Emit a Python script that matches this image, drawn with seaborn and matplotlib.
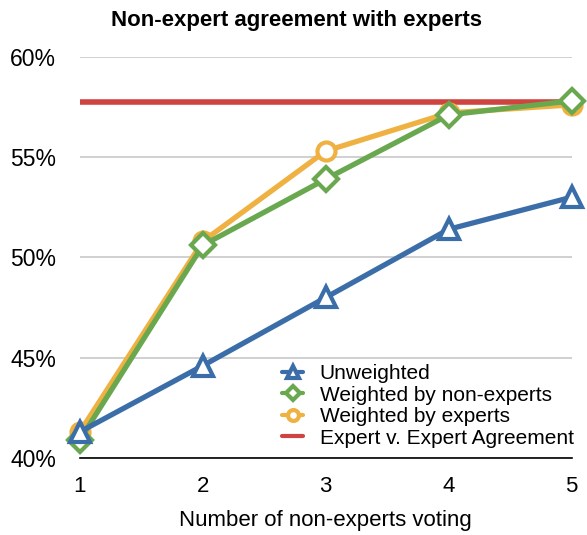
"""
Non-expert agreement with experts, as a function of how many non-experts vote.
"""

import matplotlib
matplotlib.use("Agg")
import matplotlib.pyplot as plt
import pandas as pd
import seaborn as sns
from matplotlib.ticker import FuncFormatter

# ── data ─────────────────────────────────────────────────────────────────────
voters          = [1, 2, 3, 4, 5]
unweighted      = [41.3, 44.6, 48.0, 51.4, 53.0]
weighted_nonexp = [40.9, 50.6, 53.9, 57.1, 57.8]
weighted_exp    = [41.3, 50.8, 55.3, 57.2, 57.6]
expert_level    = 57.75

series_names = ["Unweighted", "Weighted by non-experts", "Weighted by experts"]
expert_name  = "Expert v. Expert Agreement"

# ── style ────────────────────────────────────────────────────────────────────
sns.set_style("white")
plt.rcParams["font.family"] = ["Liberation Sans", "DejaVu Sans"]
plt.rcParams["text.color"] = "black"
plt.rcParams["axes.labelcolor"] = "black"
plt.rcParams["xtick.color"] = "black"
plt.rcParams["ytick.color"] = "black"

colors  = {"Unweighted": "#3b6ea8",
           "Weighted by non-experts": "#69a84f",
           "Weighted by experts": "#efb142"}
markers = {"Unweighted": "^",
           "Weighted by non-experts": "D",
           "Weighted by experts": "o"}
msizes  = {"Unweighted": 15, "Weighted by non-experts": 12, "Weighted by experts": 13}
red     = "#cf4340"

df = pd.DataFrame({
    "voters": voters * 3,
    "agreement": unweighted + weighted_nonexp + weighted_exp,
    "series": [s for s in series_names for _ in voters],
})

fig = plt.figure(figsize=(5.87, 5.35), dpi=100)
ax = fig.add_axes([0.136, 0.144, 0.838, 0.750])

ax.axhline(expert_level, color=red, lw=4, zorder=2, label=expert_name)

# draw order: experts under non-experts, unweighted on top
for z, name in zip([3, 4, 5], ["Weighted by experts", "Weighted by non-experts", "Unweighted"]):
    sns.lineplot(data=df[df["series"] == name], x="voters", y="agreement",
                 ax=ax, color=colors[name], lw=3.8, marker=markers[name],
                 markersize=msizes[name], markerfacecolor="white",
                 markeredgecolor=colors[name], markeredgewidth=3,
                 zorder=z, label=name, clip_on=False)

ax.set_xlim(1, 5)
ax.set_ylim(40, 60)
ax.set_xticks(voters)
ax.set_yticks([40, 45, 50, 55, 60])
ax.yaxis.set_major_formatter(FuncFormatter(lambda v, _: f"{v:.0f}%"))
ax.tick_params(axis="y", length=0, labelsize=16.5, pad=17, labelcolor="black")
ax.tick_params(axis="x", length=0, labelsize=16, pad=13, labelcolor="black")
ax.grid(axis="y", color="#c8c8c8", lw=1.2)
ax.grid(axis="x", visible=False)
for side in ["top", "right", "left"]:
    ax.spines[side].set_visible(False)
ax.spines["bottom"].set_color("black")
ax.spines["bottom"].set_linewidth(1.2)

ax.set_xlabel("Number of non-experts voting", fontsize=16, labelpad=9,
              color="black")
ax.set_ylabel("")
fig.suptitle("Non-expert agreement with experts", fontsize=16,
             fontweight="bold", x=0.505, y=0.982, color="black")

h, l = ax.get_legend_handles_labels()
lookup = dict(zip(l, h))
order = series_names + [expert_name]
leg = ax.legend([lookup[k] for k in order], order, loc="lower right",
                bbox_to_anchor=(1.025, 0.0),
                frameon=False, fontsize=15, handlelength=1.0,
                handletextpad=0.8, labelspacing=0.12, borderaxespad=0.1,
                markerscale=0.6, labelcolor="black")
for line in leg.get_lines():
    line.set_linewidth(3)

fig.savefig("out.png", dpi=100)
plt.close(fig)
